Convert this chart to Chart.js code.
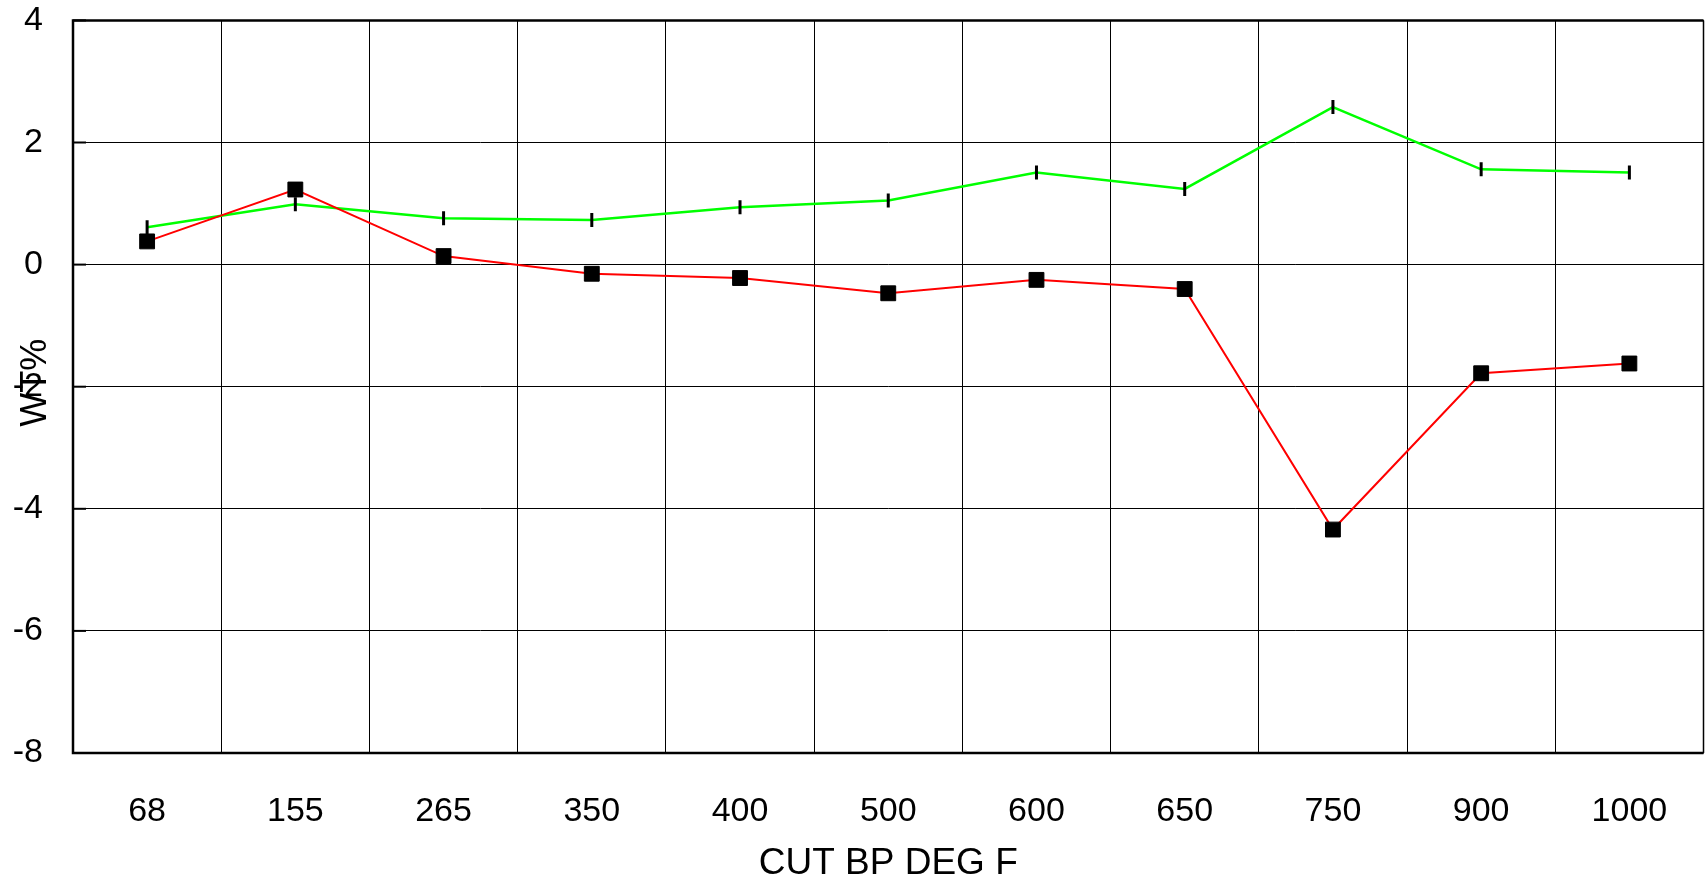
<!DOCTYPE html>
<html>
<head>
<meta charset="utf-8">
<script src="https://cdn.jsdelivr.net/npm/chart.js@4/dist/chart.umd.min.js"></script>
<style>
  html, body { margin: 0; padding: 0; background: #fff; overflow: hidden; }
  #wrap { width: 1705px; height: 880px; position: relative; }
  #cutChart { display: block; }
</style>
</head>
<body>
<div id="wrap"><canvas id="cutChart"></canvas></div>
<script>
// cut boiling points and the two deviation series
const cuts = ["68", "155", "265", "350", "400", "500", "600", "650", "750", "900", "1000"];
const redWt = [0.38, 1.23, 0.14, -0.15, -0.22, -0.47, -0.25, -0.40, -4.34, -1.78, -1.62];
const greenWt = [0.61, 0.99, 0.76, 0.73, 0.94, 1.05, 1.51, 1.24, 2.58, 1.56, 1.51];
const yMin = -8, yMax = 4, yStep = 2;

const FONT = "'Liberation Sans', Arial, sans-serif";

// frame round the plot area plus the rotated WT% title
const framePlugin = {
  id: "frame",
  beforeDatasetsDraw(chart) {
    const { ctx, chartArea: a } = chart;
    ctx.save();
    ctx.strokeStyle = "#000";
    ctx.lineWidth = 1.5;
    ctx.beginPath();
    ctx.moveTo(a.right, a.top);
    ctx.lineTo(a.right, a.bottom);
    ctx.stroke();
    ctx.lineWidth = 2.5;
    ctx.beginPath();
    ctx.moveTo(a.right, a.top);
    ctx.lineTo(a.left, a.top);
    ctx.lineTo(a.left, a.bottom);
    ctx.lineTo(a.right, a.bottom);
    ctx.stroke();
    // short inward ticks on the left axis
    const y = chart.scales.y;
    ctx.lineWidth = 2;
    y.ticks.forEach((t, i) => {
      const py = y.getPixelForTick(i);
      ctx.beginPath();
      ctx.moveTo(a.left, py);
      ctx.lineTo(a.left + 13, py);
      ctx.stroke();
    });
    ctx.restore();
  },
  afterDraw(chart) {
    const { ctx, chartArea: a } = chart;
    ctx.save();
    ctx.translate(36, (a.top + a.bottom) / 2 - 4);
    ctx.rotate(-Math.PI / 2);
    ctx.fillStyle = "#000";
    ctx.font = "36px " + FONT;
    ctx.textAlign = "center";
    ctx.textBaseline = "middle";
    ctx.fillText("WT%", 0, 0);
    ctx.restore();
  }
};

const ctx = document.getElementById("cutChart").getContext("2d");

const chart = new Chart(ctx, {
  type: "line",
  data: {
    labels: cuts,
    datasets: [
      {
        data: redWt,
        borderColor: "#ff0000",
        borderWidth: 2,
        pointStyle: "rect",
        pointRadius: 10.5,
        pointBackgroundColor: "#000",
        pointBorderColor: "#000",
        pointBorderWidth: 1,
        tension: 0
      },
      {
        data: greenWt,
        borderColor: "#00ff00",
        borderWidth: 2.5,
        pointStyle: "line",
        pointRotation: 90,
        pointRadius: 7,
        pointBorderColor: "#000",
        pointBorderWidth: 3,
        tension: 0
      }
    ]
  },
  options: {
    responsive: true,
    maintainAspectRatio: false,
    animation: false,
    layout: { padding: { top: 0, right: 2, left: 0, bottom: 0 } },
    plugins: {
      legend: { display: false },
      tooltip: { enabled: false }
    },
    scales: {
      x: {
        offset: true,
        grid: {
          offset: true, color: "#000", lineWidth: 1,
          drawTicks: true, tickLength: 36, tickColor: "rgba(0,0,0,0)"
        },
        border: { display: false },
        ticks: {
          color: "#000",
          font: { family: FONT, size: 34 },
          padding: 2,
          maxRotation: 0,
          autoSkip: false
        },
        title: {
          display: true,
          text: "CUT BP DEG F",
          color: "#000",
          font: { family: FONT, size: 37 },
          padding: { top: 0, bottom: -6 }
        },
        afterFit(scale) { scale.height = 127; }
      },
      y: {
        min: yMin,
        max: yMax,
        grid: {
          color: "#000", lineWidth: 1,
          drawTicks: true, tickLength: 30, tickColor: "rgba(0,0,0,0)"
        },
        border: { display: false },
        ticks: {
          stepSize: yStep,
          color: "#000",
          font: { family: FONT, size: 34 },
          padding: 0
        },
        afterFit(scale) { scale.width = 73; }
      }
    }
  },
  plugins: [framePlugin]
});

// widen the canvas past the window so the plot frame reaches the right edge
const gap = Math.round(1703 - chart.chartArea.right);
if (gap > 0) {
  const wrap = document.getElementById("wrap");
  wrap.style.width = (1705 + gap) + "px";
  chart.resize(1705 + gap, 880);
}
</script>
</body>
</html>
